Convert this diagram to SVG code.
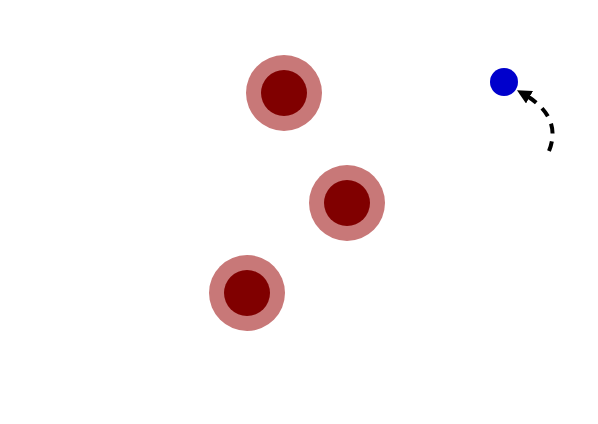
<svg xmlns="http://www.w3.org/2000/svg" width="598" height="424" viewBox="0 0 598 424">
<style>
.outer{fill:#c87878}
.inner{fill:#800000}
.conn{fill:none;stroke:#000;stroke-width:4;stroke-dasharray:10 8}
</style>
<defs>
<marker id="ah" viewBox="0 0 10 10" refX="6" refY="5" markerWidth="3.6" markerHeight="3.6" orient="auto" markerUnits="strokeWidth">
<path d="M0,0 L10,5 L0,10 z" fill="#000"/>
</marker>
</defs>
<rect width="598" height="424" fill="#fff"/>
<g id="n1"><circle class="outer" cx="284" cy="93" r="38"/><circle class="inner" cx="284" cy="93" r="23"/></g>
<g id="n2"><circle class="outer" cx="347" cy="203" r="38"/><circle class="inner" cx="347" cy="203" r="23"/></g>
<g id="n3"><circle class="outer" cx="247" cy="293" r="38"/><circle class="inner" cx="247" cy="293" r="23"/></g>
<g id="n4"><circle cx="504" cy="82" r="14" fill="#0000cc"/></g>
<g id="connectors">
<path class="conn" d="M549,151 Q563,116 522,93" marker-end="url(#ah)"/>
</g>
</svg>
